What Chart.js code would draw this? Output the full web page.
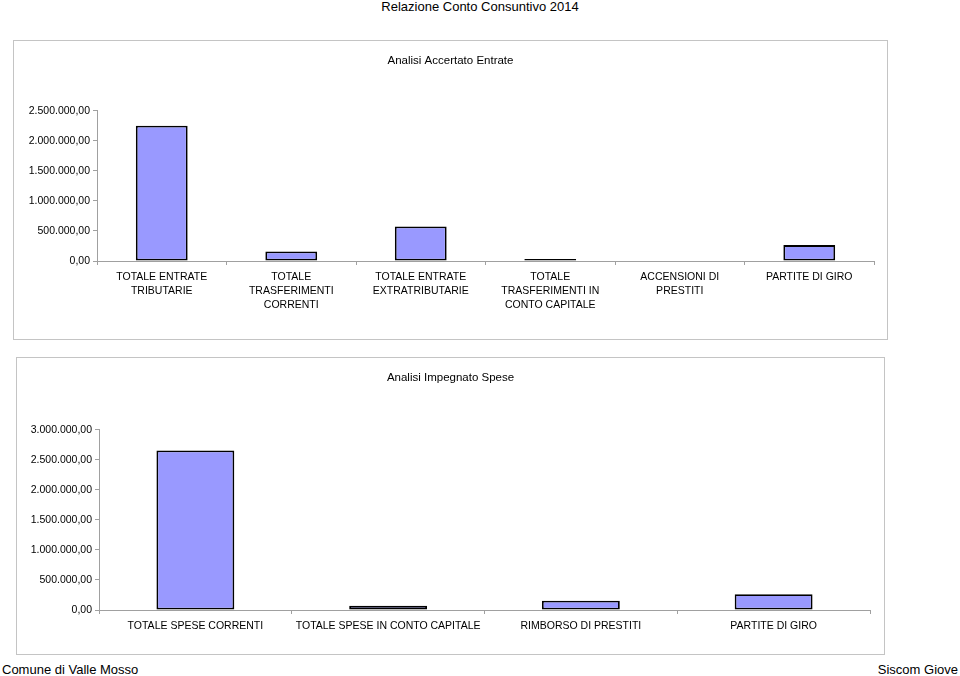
<!DOCTYPE html>
<html>
<head>
<meta charset="utf-8">
<title>Relazione Conto Consuntivo 2014</title>
<script src="https://cdn.jsdelivr.net/npm/chart.js@4/dist/chart.umd.min.js"></script>
<style>
    body { margin: 0; background: #fff; font-family: "Liberation Sans", Arial, sans-serif; color: #000; }
    .page { position: relative; width: 960px; height: 676px; overflow: hidden; }
    .head { position: absolute; left: 0; top: -1px; width: 960px; text-align: center; font-size: 13px; line-height: 16px; }
    .box { position: absolute; box-sizing: border-box; border: 1px solid #c4c4c4; }
    .box .inner { position: relative; width: 100%; height: 100%; }
    .foot { position: absolute; top: 662px; font-size: 13px; line-height: 16px; }
</style>
</head>
<body>
<div class="page">
    <div class="head">Relazione Conto Consuntivo 2014</div>
    <div class="box" style="left:13px; top:40px; width:875px; height:300px;">
        <div class="inner"><canvas id="entrate-chart"></canvas></div>
    </div>
    <div class="box" style="left:16px; top:357px; width:869px; height:298px;">
        <div class="inner"><canvas id="spese-chart"></canvas></div>
    </div>
    <div class="foot" style="left:2px;">Comune di Valle Mosso</div>
    <div class="foot" style="right:2px;">Siscom Giove</div>
</div>
<script>
const entrateLabels = [
    ['TOTALE ENTRATE', 'TRIBUTARIE'],
    ['TOTALE', 'TRASFERIMENTI', 'CORRENTI'],
    ['TOTALE ENTRATE', 'EXTRATRIBUTARIE'],
    ['TOTALE', 'TRASFERIMENTI IN', 'CONTO CAPITALE'],
    ['ACCENSIONI DI', 'PRESTITI'],
    ['PARTITE DI GIRO']
];
const entrateValues = [2250000, 157000, 573000, 35000, 0, 265000];
const entrateMax = 2500000;

const speseLabels = ['TOTALE SPESE CORRENTI', 'TOTALE SPESE IN CONTO CAPITALE', 'RIMBORSO DI PRESTITI', 'PARTITE DI GIRO'];
const speseValues = [2655000, 72000, 155000, 262000];
const speseMax = 3000000;

const tickStep = 500000;

// formato italiano: 2.500.000,00
function formatEuro(v) {
    const s = Math.round(v).toString().replace(/\B(?=(\d{3})+(?!\d))/g, '.');
    return s + ',00';
}

const fontFamily = '"Liberation Sans", Arial, sans-serif';
const axisGray = '#a0a0a0';

function makeChart(id, title, labels, values, max, opts) {
    const ctx = document.getElementById(id).getContext('2d');
    return new Chart(ctx, {
        type: 'bar',
        data: {
            labels: labels,
            datasets: [{
                data: values,
                backgroundColor: '#9999ff',
                borderColor: '#000000',
                borderWidth: 1.8,
                borderSkipped: false,
                barPercentage: opts.barPct,
                categoryPercentage: 1
            }]
        },
        options: {
            responsive: true,
            maintainAspectRatio: false,
            animation: false,
            layout: { padding: 0 },
            plugins: {
                legend: { display: false },
                tooltip: { enabled: false },
                title: {
                    display: true,
                    text: title,
                    color: '#000',
                    font: { family: fontFamily, size: 11.5, weight: 'normal', lineHeight: 1.2 },
                    padding: { top: 13, bottom: opts.titleBottom }
                }
            },
            scales: {
                x: {
                    grid: { display: true, drawOnChartArea: false, drawTicks: true, tickLength: 4, color: axisGray, offset: true },
                    border: { display: true, color: axisGray },
                    ticks: {
                        color: '#000',
                        padding: 5,
                        maxRotation: 0,
                        autoSkip: false,
                        font: { family: fontFamily, size: 10.5, lineHeight: 1.33 }
                    },
                    afterFit: (scale) => { scale.height = opts.xHeight; }
                },
                y: {
                    min: 0,
                    max: max,
                    grid: { display: true, drawOnChartArea: false, drawTicks: true, tickLength: 4, color: axisGray },
                    border: { display: true, color: axisGray },
                    ticks: {
                        stepSize: tickStep,
                        color: '#000',
                        padding: 3,
                        font: { family: fontFamily, size: 10.5 },
                        callback: (v) => formatEuro(v)
                    },
                    afterFit: (scale) => { scale.width = opts.yWidth; }
                },
                // spazio vuoto a destra, cosi' il titolo resta centrato sul riquadro
                spacer: {
                    type: 'linear',
                    position: 'right',
                    grid: { display: false },
                    border: { display: false },
                    ticks: { display: false },
                    afterFit: (scale) => { scale.width = opts.padRight; }
                }
            }
        }
    });
}

makeChart('entrate-chart', 'Analisi Accertato Entrate', entrateLabels, entrateValues, entrateMax,
    { barPct: 0.40, padRight: 13, titleBottom: 43, xHeight: 78, yWidth: 83 });

makeChart('spese-chart', 'Analisi Impegnato Spese', speseLabels, speseValues, speseMax,
    { barPct: 0.404, padRight: 14, titleBottom: 45, xHeight: 44, yWidth: 82 });
</script>
</body>
</html>
